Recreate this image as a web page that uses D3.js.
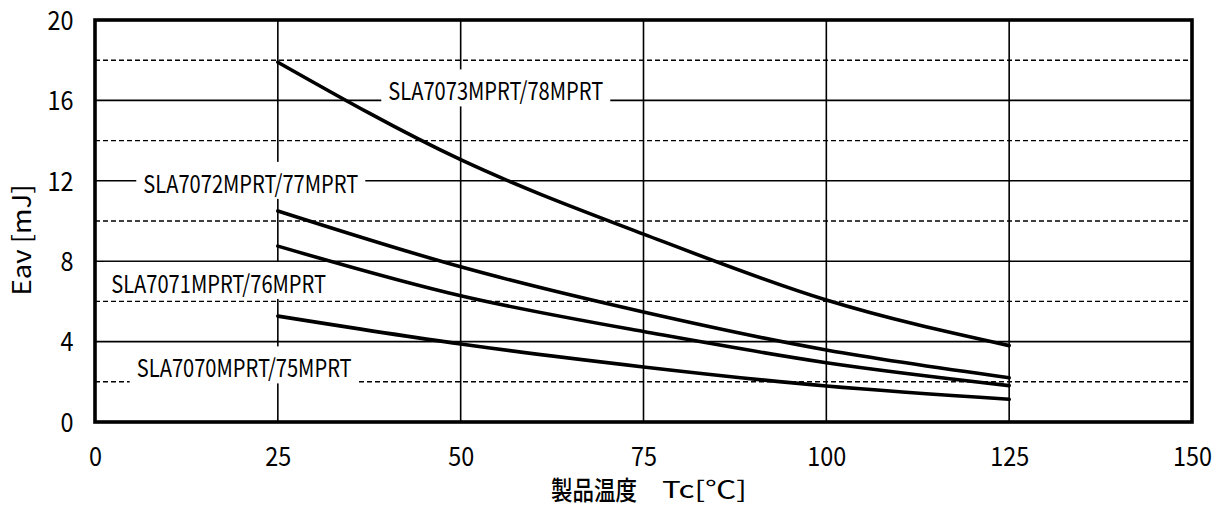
<!DOCTYPE html>
<html>
<head>
<meta charset="utf-8">
<script src="https://cdn.jsdelivr.net/npm/d3@7"></script>
<style>
  html, body { margin: 0; padding: 0; background: #fff; }
  svg { display: block; }
</style>
</head>
<body>
<svg id="chart" width="1232" height="511"></svg>
<script>
// ---- data ----
const temps = [25, 50, 75, 100, 125];
const seriesNames = ["SLA7073MPRT/78MPRT", "SLA7072MPRT/77MPRT", "SLA7071MPRT/76MPRT", "SLA7070MPRT/75MPRT"];
const eav7073 = [17.9, 13.05, 9.35, 6.07, 3.8];
const eav7072 = [10.5, 7.72, 5.47, 3.58, 2.2];
const eav7071 = [8.75, 6.28, 4.5, 2.95, 1.81];
const eav7070 = [5.27, 3.88, 2.74, 1.79, 1.13];
const xTicks = [0, 25, 50, 75, 100, 125, 150];
const yTicks = [0, 4, 8, 12, 16, 20];
const yMinor = [2, 6, 10, 14, 18];
// label anchor (center x in °C, baseline in mJ)
const labelX = [54.8, 21.3, 16.9, 20.4];
const labelY = [16.0, 11.4, 6.42, 2.22];

const allSeries = [eav7073, eav7072, eav7071, eav7070];

const svg = d3.select("#chart");
const L = 95, R = 1192, T = 20, B = 422;
const x = d3.scaleLinear().domain([0, 150]).range([L, R]);
const y = d3.scaleLinear().domain([0, 20]).range([B, T]);
const font = "'Noto Sans CJK JP', 'Noto Sans', sans-serif";

// squeeze a text element horizontally to a target width
function fitWidth(sel, target, tx, ty) {
  sel.each(function () {
    const n = this.getComputedTextLength();
    const k = target / n;
    d3.select(this).attr("transform", `translate(${tx},${ty}) scale(${k},1)`);
  });
}

// grid
const g = svg.append("g");
g.selectAll("line.vg").data(xTicks.filter(d => d > 0 && d < 150)).join("line")
  .attr("x1", d => x(d)).attr("x2", d => x(d)).attr("y1", T).attr("y2", B)
  .attr("stroke", "#000").attr("stroke-width", 1.6);
g.selectAll("line.hg").data(yTicks.filter(d => d > 0 && d < 20)).join("line")
  .attr("x1", L).attr("x2", R).attr("y1", d => y(d)).attr("y2", d => y(d))
  .attr("stroke", "#000").attr("stroke-width", 1.6);
g.selectAll("line.hd").data(yMinor).join("line")
  .attr("x1", L).attr("x2", R).attr("y1", d => y(d)).attr("y2", d => y(d))
  .attr("stroke", "#000").attr("stroke-width", 1.4).attr("stroke-dasharray", "5,3");

// labels with white backgrounds
const lab = svg.append("g");
seriesNames.forEach((name, i) => {
  const cx = x(labelX[i]), by = y(labelY[i]);
  const w = 215;
  lab.append("rect")
    .attr("x", cx - w / 2 - 7).attr("y", by - 31)
    .attr("width", w + 14).attr("height", 37)
    .attr("fill", "#fff");
  const t = lab.append("text")
    .attr("text-anchor", "middle")
    .attr("font-family", font)
    .attr("font-size", 24.5)
    .attr("fill", "#000")
    .text(name);
  fitWidth(t, w, cx, by);
});

// curves
const line = d3.line().x((d, i) => x(temps[i])).y(d => y(d)).curve(d3.curveNatural);
svg.append("g").selectAll("path").data(allSeries).join("path")
  .attr("d", d => line(d))
  .attr("fill", "none").attr("stroke", "#000").attr("stroke-width", 3.6)
  .attr("stroke-linecap", "round");

// frame
svg.append("rect").attr("x", L).attr("y", T).attr("width", R - L).attr("height", B - T)
  .attr("fill", "none").attr("stroke", "#000").attr("stroke-width", 3.6);

// axes tick labels
const xAxis = d3.axisBottom(x).tickValues(xTicks).tickSize(0).tickFormat(d3.format("d"));
const xa = svg.append("g").attr("transform", `translate(0,466)`).call(xAxis);
xa.select(".domain").remove();
xa.selectAll("text").attr("y", 0).attr("dy", 0)
  .attr("font-family", font).attr("font-size", 26).attr("fill", "#000")
  .each(function (d) { fitWidth(d3.select(this), 13 * String(d).length, 0, 0); });

const yAxis = d3.axisLeft(y).tickValues(yTicks).tickSize(0).tickFormat(d3.format("d"));
const ya = svg.append("g").attr("transform", `translate(73.5,0)`).call(yAxis);
ya.select(".domain").remove();
ya.selectAll("text").attr("x", 0).attr("dy", "0.36em")
  .attr("font-family", font).attr("font-size", 26).attr("fill", "#000")
  .each(function (d) { fitWidth(d3.select(this), 13 * String(d).length, 0, 0); });

// axis titles
const xt1 = svg.append("text")
  .attr("text-anchor", "start")
  .attr("font-family", font).attr("font-size", 26).attr("fill", "#000")
  .attr("font-weight", 500)
  .text("製品温度");
fitWidth(xt1, 86, 551, 500);
const xt2 = svg.append("text")
  .attr("text-anchor", "start")
  .attr("font-family", font).attr("font-size", 23.5).attr("fill", "#000")
  .text("Tc[℃]");
fitWidth(xt2, 85, 662, 498);

svg.append("text")
  .attr("transform", "translate(30.7,240) rotate(-90)")
  .attr("text-anchor", "middle")
  .attr("font-family", font)
  .attr("font-size", 25)
  .attr("textLength", 111).attr("lengthAdjust", "spacingAndGlyphs")
  .attr("fill", "#000")
  .text("Eav [mJ]");
</script>
</body>
</html>
